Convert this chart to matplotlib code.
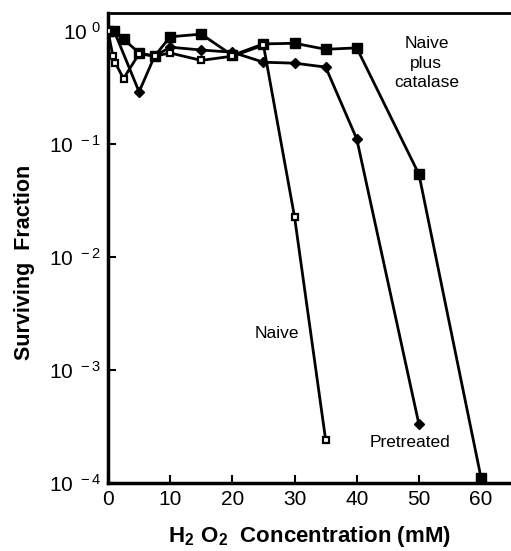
import matplotlib
matplotlib.use('Agg')
import matplotlib.pyplot as plt

# 字体设置
plt.rcParams['font.family'] = ['Liberation Sans', 'DejaVu Sans']
plt.rcParams['mathtext.fontset'] = 'custom'
plt.rcParams['mathtext.rm'] = 'Liberation Sans'
plt.rcParams['mathtext.bf'] = 'Liberation Sans:bold'

# 数据
naive_x = [0, 0.8, 1.2, 2.5, 5, 7.5, 10, 15, 20, 25, 30, 35]
naive_y = [1.0, 0.6, 0.52, 0.38, 0.63, 0.6, 0.64, 0.55, 0.6, 0.75, 0.0226, 0.00024]

pre_x = [0, 1, 5, 7.5, 10, 15, 20, 25, 30, 35, 40, 50]
pre_y = [1.0, 1.0, 0.29, 0.6, 0.72, 0.68, 0.65, 0.53, 0.52, 0.48, 0.111, 0.00033]

cat_x = [0, 1, 2.5, 5, 7.5, 10, 15, 20, 25, 30, 35, 40, 50, 60]
cat_y = [1.0, 1.0, 0.85, 0.64, 0.6, 0.89, 0.94, 0.61, 0.77, 0.78, 0.69, 0.71, 0.054, 0.00011]

x_ticks = [0, 10, 20, 30, 40, 50, 60]
y_ticks = [1e-4, 1e-3, 1e-2, 1e-1, 1e0]
y_tick_labels = [r'$\mathregular{10^{\ -4}}$', r'$\mathregular{10^{\ -3}}$',
                 r'$\mathregular{10^{\ -2}}$', r'$\mathregular{10^{\ -1}}$',
                 r'$\mathregular{10^{\ 0}}$']

fig = plt.figure(figsize=(5.11, 5.51), dpi=100)
ax = fig.add_axes([0.2113, 0.1234, 0.7887, 0.853])

# 三条曲线
ax.plot(cat_x, cat_y, color='black', lw=2, marker='s', ms=7, mfc='black', mec='black', zorder=3)
ax.plot(pre_x, pre_y, color='black', lw=2, marker='D', ms=5.5, mfc='black', mec='black', zorder=3)
ax.plot(naive_x, naive_y, color='black', lw=2, marker='s', ms=5, mfc='white', mec='black', mew=1.6, zorder=4)

ax.set_yscale('log')
ax.set_xlim(0, 64.8)
ax.set_ylim(1e-4, 10 ** 0.16)
ax.set_xticks(x_ticks)
ax.set_xticklabels([str(t) for t in x_ticks])
ax.set_yticks(y_ticks)
ax.set_yticklabels(y_tick_labels)
ax.minorticks_off()
ax.tick_params(direction='in', length=6, width=1.5, labelsize=15, pad=5)

for side in ['left', 'bottom']:
    ax.spines[side].set_linewidth(2.5)
ax.spines['top'].set_linewidth(2)
ax.spines['right'].set_visible(False)

# 标注
ax.text(51.2, 0.52, 'Naive\nplus\ncatalase', ha='center', va='center', fontsize=12.5, linespacing=1.4)
ax.text(27.1, 0.0021, 'Naive', ha='center', va='center', fontsize=12.5)
ax.text(48.5, 0.000226, 'Pretreated', ha='center', va='center', fontsize=12.5)

fig.text(0.606, 0.026, r'$\mathbf{H_2\ O_2}$  Concentration (mM)', ha='center', va='center',
         fontsize=16, fontweight='bold')
fig.text(0.047, 0.523, 'Surviving  Fraction', ha='center', va='center', rotation=90,
         fontsize=15.5, fontweight='bold')

fig.savefig('out.png', dpi=100)
